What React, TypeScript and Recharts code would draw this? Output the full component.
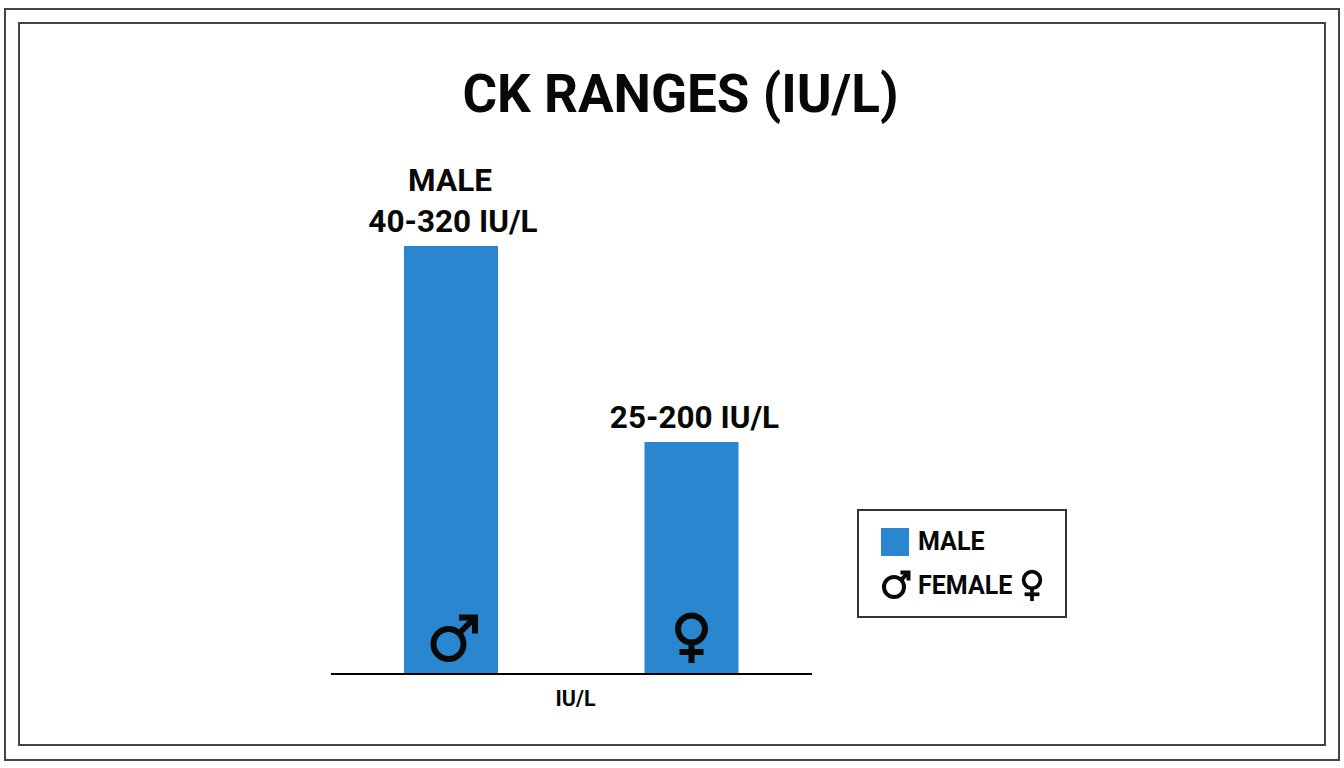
import React from 'react'
import { BarChart, Bar, XAxis, YAxis, Legend, LabelList } from 'recharts'

const categories = ['MALE', 'FEMALE']
// bars in the picture are not to scale with their captions, so this is the drawn height
const barValues = [320, 173.5]
const captions = [['MALE', '40-320 IU/L'], ['25-200 IU/L']]
const titleText = 'CK RANGES (IU/L)'
const axisText = 'IU/L'

const data = categories.map((name, i) => ({ name, value: barValues[i], caption: captions[i] }))

const FONT = 'Roboto, Arial, sans-serif'
const BLUE = '#2a87cf'
const INK = '#080808'

const MaleIcon = ({ x, y, r, tip, head, sw }: any) => (
  <g transform={`translate(${x} ${y})`} fill="none" stroke={INK} strokeWidth={sw}>
    <circle cx={0} cy={0} r={r} />
    <path d={`M${r * 0.7} ${-r * 0.7} L${tip - sw / 2} ${-tip + sw / 2}`} />
    <path d={`M${tip - head} ${-tip + sw / 2} H${tip - sw / 2} V${-tip + head}`} />
  </g>
)

const FemaleIcon = ({ x, y, scale = 1 }: any) => (
  <g transform={`translate(${x} ${y}) scale(${scale})`} fill="none" stroke={INK} strokeWidth={6}>
    <circle cx={0} cy={0} r={13.5} />
    <path d="M0 14 V34" />
    <path d="M-12 23 H12" />
  </g>
)

const BarDecor = (props: any) => {
  const { x, y, width, height, index } = props
  const lines = captions[index]
  const cx = x + width / 2
  const isMale = index === 0
  return (
    <g>
      {lines.map((line: string, i: number) => (
        <text
          key={line}
          x={isMale ? cx + (i === 0 ? -1 : 2) : cx + 3}
          y={y - 14 - (lines.length - 1 - i) * 41}
          textAnchor="middle"
          fontFamily={FONT}
          fontWeight={700}
          fontSize={31.5}
          fill={INK}
        >
          {line}
        </text>
      ))}
      {isMale ? (
        <MaleIcon x={cx - 2.5} y={y + height - 30} r={15} tip={29.5} head={19} sw={6} />
      ) : (
        <FemaleIcon x={cx} y={y + height - 45} />
      )}
    </g>
  )
}

const LegendBox = () => (
  <div
    style={{
      position: 'relative',
      width: 210,
      height: 109,
      boxSizing: 'border-box',
      border: '2px solid #333',
      background: '#fff',
      fontFamily: FONT,
      fontWeight: 700,
      fontSize: 25,
      color: INK,
    }}
  >
    <div style={{ position: 'absolute', left: 22, top: 17, width: 28, height: 28, background: BLUE }} />
    <span style={{ position: 'absolute', left: 59, top: 17, lineHeight: '28px' }}>{categories[0]}</span>
    <svg style={{ position: 'absolute', left: -2, top: -2 }} width={210} height={109}>
      <MaleIcon x={37} y={78} r={10} tip={16.5} head={10} sw={4} />
      <FemaleIcon x={175} y={71} scale={0.62} />
    </svg>
    <span style={{ position: 'absolute', left: 59, top: 61, lineHeight: '28px' }}>{categories[1]}</span>
  </div>
)

export default function App() {
  return (
    <div style={{ position: 'absolute', left: 0, top: 0, width: 1344, height: 768, background: '#fff', overflow: 'hidden' }}>
      <div style={{ position: 'absolute', left: 4, top: 8, width: 1336, height: 753, boxSizing: 'border-box', border: '2px solid #444' }} />
      <div style={{ position: 'absolute', left: 18, top: 22, width: 1308, height: 724, boxSizing: 'border-box', border: '2px solid #444' }} />
      <BarChart
        width={1344}
        height={768}
        data={data}
        margin={{ top: 246, right: 532, bottom: 64, left: 331 }}
        style={{ position: 'absolute', left: 0, top: 0 }}
      >
        <text x={680.5} y={112} textAnchor="middle" fontFamily={FONT} fontWeight={700} fontSize={53} fill={INK}>
          {titleText}
        </text>
        <XAxis
          dataKey="name"
          height={30}
          tick={false}
          tickLine={false}
          axisLine={{ stroke: '#000', strokeWidth: 2 }}
          label={{
            value: axisText,
            position: 'insideTop',
            dx: 4,
            dy: 12,
            style: { fontFamily: FONT, fontWeight: 700, fontSize: 21.5, fill: INK },
          }}
        />
        <YAxis hide domain={[0, 320]} />
        <Legend
          layout="horizontal"
          verticalAlign="middle"
          content={<LegendBox />}
          wrapperStyle={{ position: 'absolute', left: 857, top: 509, width: 210, height: 109 }}
        />
        <Bar dataKey="value" fill={BLUE} barSize={94} isAnimationActive={false}>
          <LabelList dataKey="caption" content={<BarDecor />} />
        </Bar>
      </BarChart>
    </div>
  )
}
